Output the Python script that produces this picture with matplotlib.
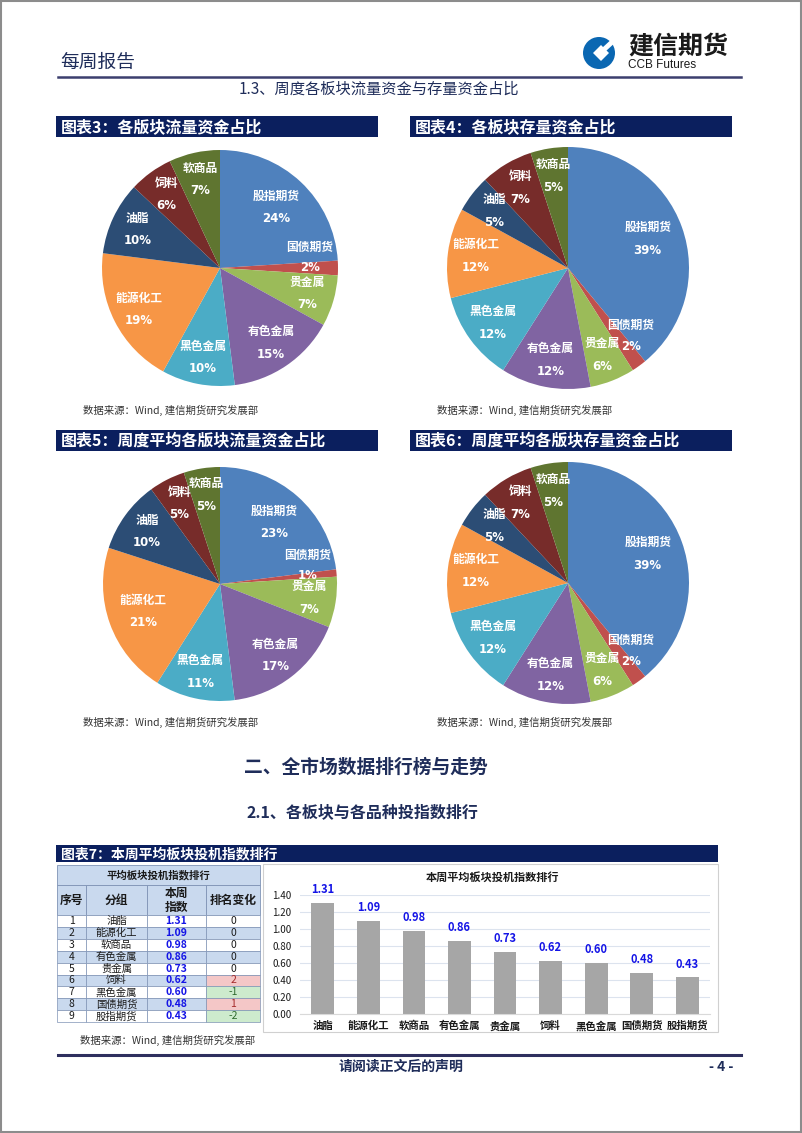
import matplotlib
matplotlib.use("Agg")
import matplotlib.pyplot as plt
from matplotlib.patches import Rectangle, Wedge, Polygon
import numpy as np

plt.rcParams['font.family'] = ['Noto Sans CJK SC', 'DejaVu Sans']

# ---------------- data ----------------
sectors = ['股指期货', '国债期货', '贵金属', '有色金属', '黑色金属', '能源化工', '油脂', '饲料', '软商品']
flow_share = [24, 2, 7, 15, 10, 19, 10, 6, 7]            # 图表3
stock_share = [39, 2, 6, 12, 12, 12, 5, 7, 5]           # 图表4
avg_flow_share = [23, 1, 7, 17, 11, 21, 10, 5, 5]       # 图表5
avg_stock_share = [39, 2, 6, 12, 12, 12, 5, 7, 5]       # 图表6
sector_colors = ['#4F81BD', '#C0504D', '#9BBB59', '#8064A2', '#4BACC6',
                 '#F79646', '#2C4D75', '#772C2A', '#5F7530']

rank_no = [1, 2, 3, 4, 5, 6, 7, 8, 9]
rank_groups = ['油脂', '能源化工', '软商品', '有色金属', '贵金属', '饲料', '黑色金属', '国债期货', '股指期货']
rank_index = [1.31, 1.09, 0.98, 0.86, 0.73, 0.62, 0.60, 0.48, 0.43]
rank_change = [0, 0, 0, 0, 0, 2, -1, 1, -2]
yticks_bar = [0.0, 0.2, 0.4, 0.6, 0.8, 1.0, 1.2, 1.4]

W, H = 802, 1133
NAVY = '#0B1F5E'
TXT = '#1F2D5A'

fig = plt.figure(figsize=(W / 100, H / 100), dpi=100)
bg = fig.add_axes([0, 0, 1, 1])
bg.set_xlim(0, W)
bg.set_ylim(H, 0)
bg.axis('off')


def px_axes(x0, y0, x1, y1):
    return fig.add_axes([x0 / W, 1 - y1 / H, (x1 - x0) / W, (y1 - y0) / H])


# page border
bg.add_patch(Rectangle((1, 1), W - 2.5, H - 2.5, fill=False, ec='#8C8C8C', lw=1.5))

# header
bg.text(60, 62, '每周报告', fontsize=13.5, color=TXT, va='center', ha='left')
bg.plot([58, 741], [77, 77], color='#3C3F6E', lw=1.8)
# logo
bg.add_patch(Wedge((599, 53), 16, 0, 360, fc='#0A67B2', ec='none'))
bg.add_patch(Polygon([[601, 45], [609, 53], [601, 61], [593, 53]], closed=True, fc='white', ec='none'))
bg.add_patch(Polygon([[602, 48], [615, 36], [618, 40], [606, 51]], closed=True, fc='white', ec='none'))
bg.text(628, 47, '建信期货', fontsize=18, fontweight='bold', color='#1A1A1A', va='center', ha='left')
bg.text(628, 65, 'CCB Futures', fontsize=8.5, color='#1A1A1A', va='center', ha='left',
        family=['Liberation Sans', 'DejaVu Sans'])

bg.text(379, 89, '1.3、周度各板块流量资金与存量资金占比', fontsize=11, color=TXT, va='center', ha='center')


def header_bar(x0, y0, x1, y1, title, fs=11.5):
    bg.add_patch(Rectangle((x0, y0), x1 - x0, y1 - y0, fc=NAVY, ec='none'))
    bg.text(x0 + 5, (y0 + y1) / 2 + 0.5, title, fontsize=fs, fontweight='bold', color='white',
            va='center', ha='left')


def source(x, y):
    bg.text(x, y, '数据来源：Wind, 建信期货研究发展部', fontsize=7.5, color='#333333',
            va='center', ha='left', style='italic')


def draw_pie(cx, cy, r, values):
    ax = px_axes(cx - r, cy - r, cx + r, cy + r)
    wedges, _ = ax.pie(values, colors=sector_colors, startangle=90, counterclock=False,
                       radius=1.0, wedgeprops=dict(linewidth=0))
    for w, name, v in zip(wedges, sectors, values):
        ang = np.deg2rad((w.theta1 + w.theta2) / 2)
        if v >= 20:
            d = 0.70
        elif v < 3:
            d = 0.76
        else:
            d = 0.77
        x, y = d * np.cos(ang), d * np.sin(ang)
        if v < 3:
            # nudge the label of a very thin slice away from the following slice
            x += -0.09 * np.sin(ang)
            y += 0.09 * np.cos(ang)
        gap = 0.085 if v < 3 else 0.095
        ax.text(x, y + gap, name, fontsize=8.5, color='white', ha='center', va='center', fontweight='bold')
        ax.text(x, y - gap, f'{v}%', fontsize=8.5, color='white', ha='center', va='center', fontweight='bold',
                family=['DejaVu Sans'])
    ax.set_xlim(-1, 1)
    ax.set_ylim(-1, 1)
    ax.set_aspect('equal')
    ax.axis('off')


header_bar(56, 116, 378, 137, '图表3：各版块流量资金占比')
header_bar(410, 116, 732, 137, '图表4：各板块存量资金占比')
draw_pie(220, 268, 118, flow_share)
draw_pie(568, 268, 121, stock_share)
source(83, 410)
source(437, 410)

header_bar(56, 430, 378, 451, '图表5：周度平均各版块流量资金占比')
header_bar(410, 430, 732, 451, '图表6：周度平均各版块存量资金占比')
draw_pie(220, 584, 117, avg_flow_share)
draw_pie(568, 583, 121, avg_stock_share)
source(83, 722)
source(437, 722)

bg.text(366, 767, '二、全市场数据排行榜与走势', fontsize=13.5, fontweight='bold', color=TXT, va='center', ha='center')
bg.text(362, 812, '2.1、各板块与各品种投指数排行', fontsize=11.5, fontweight='bold', color=TXT, va='center', ha='center')

header_bar(56, 845, 718, 862, '图表7：本周平均板块投机指数排行', fs=10)

# ---------------- table ----------------
LB = '#C9D9EE'
col_x = [57, 86, 147, 206, 260]
t_top, t_title_b, t_head_b = 865, 885, 915
row_h = 11.9
grid_c = '#7F93B5'
bg.add_patch(Rectangle((col_x[0], t_top), col_x[-1] - col_x[0], t_title_b - t_top, fc=LB, ec=grid_c, lw=0.6))
bg.text((col_x[0] + col_x[-1]) / 2, (t_top + t_title_b) / 2, '平均板块投机指数排行', fontsize=7.5,
        fontweight='bold', ha='center', va='center', color='#1A1A1A')
heads = ['序号', '分组', '本周\n指数', '排名变化']
for i, hd in enumerate(heads):
    bg.add_patch(Rectangle((col_x[i], t_title_b), col_x[i + 1] - col_x[i], t_head_b - t_title_b,
                           fc=LB, ec=grid_c, lw=0.6))
    bg.text((col_x[i] + col_x[i + 1]) / 2, (t_title_b + t_head_b) / 2, hd, fontsize=8.5, fontweight='bold',
            ha='center', va='center', color='#1A1A1A', linespacing=1.1)
for k, (no, g, v, ch) in enumerate(zip(rank_no, rank_groups, rank_index, rank_change)):
    y0 = t_head_b + k * row_h
    base = 'white' if k % 2 == 0 else LB
    cells = [str(no), g, f'{v:.2f}', f'{ch:d}']
    for i, c in enumerate(cells):
        fc = base
        color = '#1A1A1A'
        weight = 'normal'
        if i == 3 and ch > 0:
            fc, color = '#F4C7C7', '#A52A2A'
        elif i == 3 and ch < 0:
            fc, color = '#CDEBCD', '#2E6B2E'
        if i == 2:
            color, weight = '#1414E6', 'bold'
        bg.add_patch(Rectangle((col_x[i], y0), col_x[i + 1] - col_x[i], row_h, fc=fc, ec=grid_c, lw=0.5))
        bg.text((col_x[i] + col_x[i + 1]) / 2, y0 + row_h / 2, c, fontsize=7.5, fontweight=weight,
                ha='center', va='center', color=color)
source(80, 1040)

# ---------------- bar chart ----------------
bg.add_patch(Rectangle((263, 864), 455, 168, fill=False, ec='#D0D0D0', lw=0.8))
bg.text(492, 877, '本周平均板块投机指数排行', fontsize=8, fontweight='bold', ha='center', va='center', color='#1A1A1A')
bax = px_axes(300, 895, 710, 1014)
xpos = np.arange(len(rank_groups))
bars = bax.bar(xpos, rank_index, width=0.5, color='#A6A6A6', zorder=2)
bax.set_xlim(-0.5, len(rank_groups) - 0.5)
bax.set_ylim(0, 1.4)
bax.set_yticks(yticks_bar)
bax.set_yticklabels([f'{t:.2f}' for t in yticks_bar], fontsize=7, color='#1A1A1A')
bax.set_xticks(xpos)
bax.set_xticklabels(rank_groups, fontsize=7.5, fontweight='bold', color='#1A1A1A')
bax.tick_params(axis='y', length=0, pad=6)
bax.tick_params(axis='x', length=0, pad=5)
bax.grid(axis='y', color='#DCE3EE', lw=0.8, zorder=0)
for s in bax.spines.values():
    s.set_visible(False)
bax.spines['bottom'].set_visible(True)
bax.spines['bottom'].set_color('#D9D9D9')
bax.patch.set_alpha(0)
for b, v in zip(bars, rank_index):
    bax.annotate(f'{v:.2f}', (b.get_x() + b.get_width() / 2, v), xytext=(0, 5), textcoords='offset points',
                 ha='center', va='bottom', fontsize=8, fontweight='bold', color='#1414E6')

# footer
bg.plot([58, 741], [1055, 1055], color='#2E2F5E', lw=2.2)
bg.text(401, 1067, '请阅读正文后的声明', fontsize=10, color=TXT, ha='center', va='center', fontweight='bold')
bg.text(721, 1067, '- 4 -', fontsize=10, color=TXT, ha='center', va='center', fontweight='bold')

fig.savefig('out.png', dpi=100)
